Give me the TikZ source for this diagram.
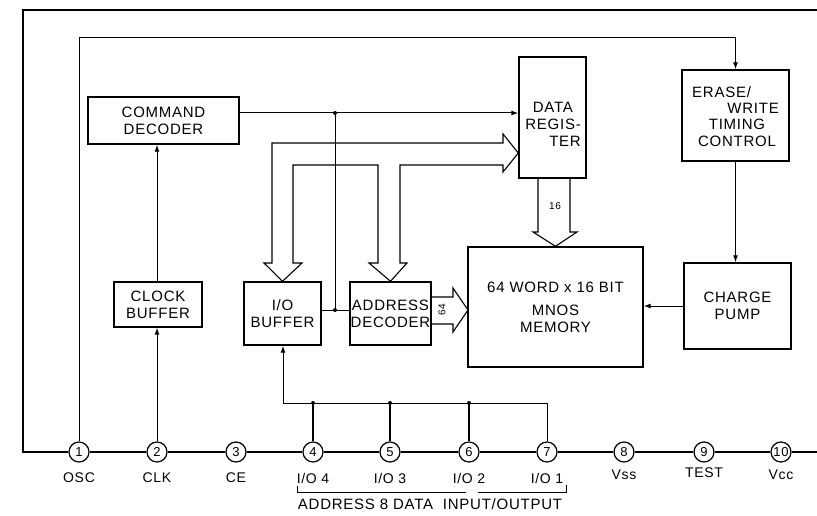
\documentclass[tikz,border=0pt]{standalone}
\usepackage{fontspec}
\setmainfont{Liberation Sans}[LetterSpace=5]
\usetikzlibrary{arrows.meta,calc}
\begin{document}
\begin{tikzpicture}[x=1pt,y=-1pt,
  box/.style={draw,line width=1.4pt,inner sep=0pt,align=center,font=\fontsize{15}{17}\selectfont},
  lbl/.style={inner sep=0pt,font=\fontsize{15}{17}\selectfont},
  wire/.style={line width=1pt},
  framew/.style={line width=1.8pt,line join=miter},
  arr/.style={wire,-{Latex[length=7pt,width=5pt]}},
  bus/.style={line width=1.1pt,line join=miter},
  pin/.style={circle,draw,line width=1.2pt,minimum size=20pt,inner sep=0pt,fill=white,font=\fontsize{13}{13}\selectfont},
  pinlabel/.style={inner sep=0pt,font=\fontsize{14}{14}\selectfont},
  jdot/.style={circle,fill,inner sep=0pt,minimum size=4pt}]
\useasboundingbox (0,0) rectangle (817,516);

% boxes
\node[box,minimum width=151pt,minimum height=47pt] (cmd) at (163.5,120.5) {COMMAND\\DECODER};
\node[box,minimum width=88pt,minimum height=45pt] (clk) at (158,304.5) {CLOCK\\BUFFER};
\node[box,minimum width=77pt,minimum height=63pt] (iob) at (282.5,313.5) {I/O\\BUFFER};
\node[box,minimum width=81pt,minimum height=63pt] (adec) at (390.5,313.5) {ADDRESS\\DECODER};
\node[box,minimum width=175pt,minimum height=120pt] (mem) at (555.5,307) {64 WORD x 16 BIT\\[6pt]MNOS\\MEMORY};
\node[box,minimum width=67pt,minimum height=121pt] (dreg) at (552.5,117.5) {};
\node[lbl,align=right,anchor=east] (dregt) at (581,124.5) {DATA\hspace*{8pt}\\REGIS-\\TER};
\node[box,minimum width=107pt,minimum height=91pt] (ew) at (735.5,115.5) {};
\node[lbl,anchor=west] (ew1) at (692,92) {ERASE/};
\node[lbl,anchor=east] (ew2) at (779,108) {WRITE};
\node[lbl] (ew3) at (737,124.5) {TIMING};
\node[lbl] (ew4) at (737,141) {CONTROL};
\node[box,minimum width=107pt,minimum height=86pt] (cp) at (737.5,306) {CHARGE\\PUMP};

% pins
\foreach \i/\x in {1/79,2/157,3/236,4/313,5/390,6/469,7/547,8/624,9/704,10/781}
  \node[pin] (p\i) at (\x,452) {\i};
\foreach \i/\x/\y/\t in {1/79/478/{OSC},2/157/478/{CLK},3/236/478/{CE},4/313/478/{I/O 4},5/390/478/{I/O 3},6/469/478/{I/O 2},7/547/478/{I/O 1},8/624/475/{Vss},9/704/473/{TEST},10/781/475/{Vcc}}
  \node[pinlabel] (l\i) at (\x,\y) {\t};

% frame and pin line
\coordinate (ftl) at (23,10);
\coordinate (ftr) at (817,10);
\coordinate (fbl) at (23,452);
\coordinate (fbr) at (817,452);
\draw[framew] (ftr) -- (ftl) -- (fbl) -- (p1);
\foreach \a/\b in {1/2,2/3,3/4,4/5,5/6,6/7,7/8,8/9,9/10}
  \draw[framew] (p\a) -- (p\b);
\draw[framew] (p10) -- (fbr);

% OSC line
\coordinate (osctop) at (79,38);
\coordinate (osccorner) at (735.5,38);
\draw[arr] (p1.north) -- (osctop) -- (osccorner) -- (ew.north);

% clock
\draw[arr] (p2.north) -- (p2.north |- clk.south);
\draw[arr] (p2 |- clk.north) -- (p2 |- cmd.south);

% command decoder to data register
\coordinate (cmdout) at (239,113);
\draw[arr] (cmdout) -- (cmdout -| dreg.west);
\coordinate (j1) at (335,113);
\coordinate (j2) at (335,310);
\draw[wire] (j1) -- (j2);
\draw[wire] (iob.east |- j2) -- (adec.west |- j2);
\node[jdot] (d1) at (j1) {};
\node[jdot] (d2) at (j2) {};

% bus: data register <-> I/O buffer and address decoder
\draw[bus] (272,263) -- (272,143) -- (503,143) -- (503,134) -- (dreg.west |- 0,153) -- (503,172) -- (503,165)
  -- (400,165) -- (400,263) -- (407,263) -- (adec.north) -- (369,263) -- (378,263) -- (378,165)
  -- (293,165) -- (293,263) -- (302,263) -- (iob.north) -- (264,263) -- cycle;

% data register -> memory bus
\draw[bus] (538,178) -- (538,232) -- (533,232) -- (mem.north) -- (577,232) -- (570,232) -- (570,178);
\node[inner sep=0pt,font=\fontsize{10}{10}\selectfont] (b16) at (555,206) {16};

% address decoder -> memory bus
\draw[bus] (431,297) -- (453,297) -- (453,288) -- (468,310) -- (453,332) -- (453,324) -- (431,324);
\node[inner sep=0pt,rotate=90,font=\fontsize{10}{10}\selectfont] (b64) at (442,310) {64};

% erase/write -> charge pump -> memory
\draw[arr] (ew.south) -- (ew.south |- cp.north);
\draw[arr] (cp.west) -- (cp.west -| mem.east);

% I/O lines
\coordinate (iobus) at (283,403);
\coordinate (io7top) at (547,403);
\draw[wire] (p7.north) -- (io7top) -- (iobus);
\draw[arr] (iobus) -- (iobus |- iob.south);
\foreach \i in {4,5,6} {
  \draw[line width=1.2pt] (p\i.north) -- (p\i |- iobus);
  \node[jdot] (dd\i) at (p\i |- iobus) {};
}

% bracket and caption
\coordinate (br1) at (297,486);
\coordinate (br2) at (297,492);
\coordinate (br3) at (466,492);
\coordinate (br4) at (478,492);
\coordinate (br5) at (566,492);
\coordinate (br6) at (566,485);
\draw[wire] (br1) -- (br2) -- (br3);
\draw[wire] (br4) -- (br5) -- (br6);
\node[inner sep=0pt,font=\fontsize{15}{15}\selectfont] (cap) at (430,504) {ADDRESS 8 DATA\ \ INPUT/OUTPUT};
\end{tikzpicture}
\end{document}
